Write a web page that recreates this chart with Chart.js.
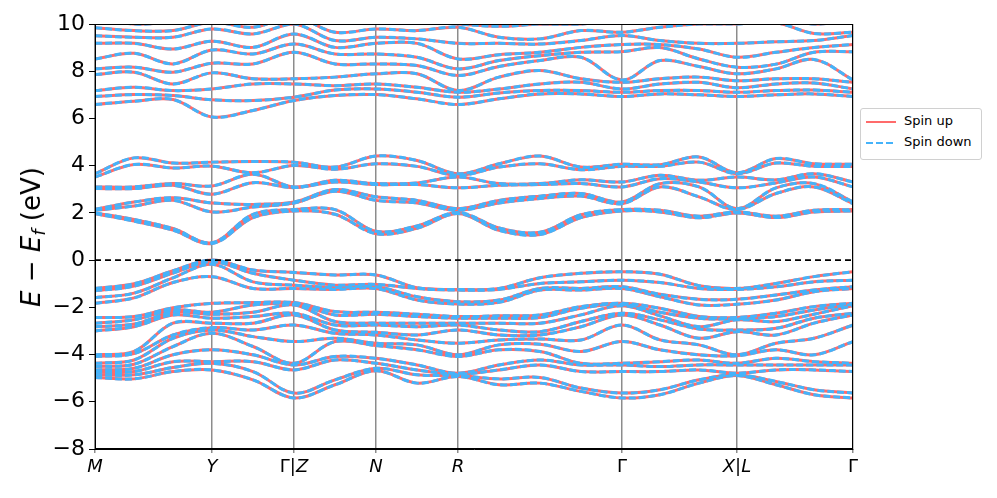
<!DOCTYPE html>
<html>
<head>
<meta charset="utf-8">
<script src="https://cdn.jsdelivr.net/npm/chart.js@4/dist/chart.umd.min.js"></script>
<style>
  body { margin: 0; background: #fff; }
  #wrap { position: relative; width: 997px; height: 498px; font-family: "DejaVu Sans", sans-serif; }
  #ylab {
    position: absolute; left: 31px; top: 237px;
    transform: translate(-50%, -50%) rotate(-90deg);
    font-size: 26px; white-space: nowrap; color: #000;
  }
  #ylab sub { font-size: 18px; vertical-align: -5px; line-height: 0; }
  #legend {
    position: absolute; left: 860px; top: 108px; width: 120px; height: 50px;
    border: 1px solid #d0d0d0; border-radius: 3px; background: #fff;
    font-size: 13px; color: #000;
  }
  #legend .row { position: absolute; left: 5px; height: 16px; line-height: 16px; white-space: nowrap; }
  #legend svg { vertical-align: middle; margin-right: 8px; }
</style>
</head>
<body>
<div id="wrap">
  <canvas id="bands" width="997" height="498"></canvas>
  <div id="ylab"><i>E</i> &minus; <i>E<sub>f</sub></i> (eV)</div>
  <div id="legend">
    <div class="row" style="top:4px"><svg width="30" height="4"><line x1="0" y1="2" x2="30" y2="2" stroke="#ff6b6b" stroke-width="2"/></svg>Spin up</div>
    <div class="row" style="top:25px"><svg width="30" height="4"><line x1="0" y1="2" x2="30" y2="2" stroke="#45b3fa" stroke-width="2" stroke-dasharray="7,3"/></svg>Spin down</div>
  </div>
</div>
<script>
// k-path sample positions (arbitrary distance units) and high-symmetry points
const kPath = [0, 0.39, 0.78, 1.17, 1.58, 1.99, 2.40, 2.81, 3.22, 3.63, 4.04, 4.45, 4.86, 5.27, 5.65, 6.04, 6.42, 6.81, 7.19, 7.58];
const kTicks = [0, 1.17, 1.99, 2.81, 3.63, 5.27, 6.42, 7.58];
const kLabels = ['M', 'Y', 'Γ|Z', 'N', 'R', 'Γ', 'X|L', 'Γ'];
const yTicks = [-8, -6, -4, -2, 0, 2, 4, 6, 8, 10];
const fermiLevel = 0;

// energies (eV) at each k sample, bands sorted high -> low
const upperAtK = [
  [10.3, 9.84, 9.50, 9.18, 8.52, 8.10, 7.86, 7.18, 6.93, 6.59],
  [10.0, 9.72, 9.44, 9.18, 8.76, 8.17, 7.96, 7.32, 7.01, 6.73],
  [10.1, 9.72, 9.44, 8.94, 8.31, 7.96, 7.46, 7.18, 6.97, 6.80],
  [10.3, 10.07, 9.79, 9.27, 8.90, 8.34, 7.93, 7.25, 6.79, 6.06],
  [10.2, 9.86, 9.58, 9.01, 8.73, 8.31, 7.68, 7.46, 6.76, 6.34],
  [10.5, 10.3, 10.0, 9.58, 9.15, 8.80, 7.68, 7.46, 6.90, 6.76],
  [10.1, 9.65, 9.30, 9.01, 8.73, 8.31, 7.75, 7.39, 7.20, 6.97],
  [10.2, 9.79, 9.44, 9.18, 8.73, 8.31, 7.89, 7.46, 7.25, 7.01],
  [10.1, 9.72, 9.37, 9.18, 8.59, 8.24, 7.89, 7.32, 7.11, 6.83],
  [10.0, 9.86, 9.18, 8.52, 8.10, 7.82, 7.18, 7.11, 6.90, 6.59],
  [9.90, 9.44, 9.18, 8.70, 8.45, 8.20, 7.75, 7.25, 7.08, 6.83],
  [10.0, 9.37, 9.15, 8.80, 8.66, 8.45, 8.03, 7.46, 7.18, 7.04],
  [10.0, 9.72, 9.30, 9.01, 8.80, 8.59, 7.68, 7.53, 7.18, 7.04],
  [10.2, 9.65, 9.51, 9.13, 8.83, 7.63, 7.53, 7.25, 7.11, 6.93],
  [10.1, 9.86, 9.30, 9.13, 9.00, 8.45, 7.68, 7.46, 7.18, 7.04],
  [10.3, 10.0, 9.18, 8.94, 8.52, 8.20, 7.75, 7.53, 7.18, 7.00],
  [10.1, 10.0, 9.18, 8.59, 8.17, 7.89, 7.60, 7.30, 7.11, 6.93],
  [10.3, 10.05, 9.25, 8.80, 8.30, 8.10, 7.68, 7.46, 7.18, 7.00],
  [10.0, 9.60, 9.30, 9.00, 8.80, 8.50, 7.68, 7.50, 7.20, 7.04],
  [10.2, 9.65, 9.51, 9.13, 8.83, 7.63, 7.53, 7.25, 7.11, 6.93]
];

const conductionAtK = [
  [3.66, 3.52, 3.10, 3.03, 2.15, 2.11, 2.00, 1.97],
  [4.33, 4.05, 3.10, 3.03, 2.46, 2.29, 1.72, 1.65],
  [4.11, 3.90, 3.24, 3.17, 2.64, 2.53, 1.34, 1.27],
  [4.15, 3.98, 3.14, 2.79, 2.42, 2.04, 0.74, 0.70],
  [4.18, 3.70, 3.64, 3.28, 2.36, 2.25, 1.94, 1.80],
  [4.15, 4.01, 3.10, 3.07, 2.46, 2.42, 2.14, 2.08],
  [3.94, 3.85, 3.38, 3.31, 2.99, 2.92, 2.14, 1.94],
  [4.41, 4.08, 3.24, 3.20, 2.68, 2.53, 1.22, 1.12],
  [4.22, 3.97, 3.27, 3.20, 2.53, 2.42, 1.45, 1.35],
  [3.66, 3.59, 3.52, 3.06, 2.18, 2.11, 2.02, 1.97],
  [4.08, 3.94, 3.24, 3.17, 2.53, 2.42, 1.36, 1.26],
  [4.41, 4.08, 3.24, 3.20, 2.71, 2.61, 1.18, 1.08],
  [3.94, 3.83, 3.40, 3.24, 2.82, 2.71, 1.92, 1.80],
  [4.06, 3.97, 3.31, 3.10, 2.46, 2.39, 2.14, 2.08],
  [4.04, 3.97, 3.59, 3.45, 3.24, 3.10, 2.11, 2.04],
  [4.37, 4.15, 3.38, 3.31, 3.10, 2.68, 1.86, 1.79],
  [3.70, 3.66, 3.52, 3.06, 2.18, 2.14, 2.04, 2.00],
  [4.30, 4.11, 3.40, 3.27, 3.06, 2.82, 1.86, 1.80],
  [4.08, 3.97, 3.66, 3.52, 3.24, 3.10, 2.11, 2.04],
  [4.06, 3.97, 3.31, 3.10, 2.46, 2.39, 2.14, 2.08]
];

const valenceAtK = [
  [-1.20, -1.30, -1.59, -1.83, -2.43, -2.67, -2.82, -3.00, -4.01, -4.08, -4.37, -4.51, -4.65, -4.75, -4.86, -4.97],
  [-1.00, -1.10, -1.40, -1.60, -2.39, -2.53, -2.71, -2.82, -3.87, -3.96, -4.23, -4.41, -4.58, -4.72, -4.86, -5.03],
  [-0.45, -0.55, -0.75, -0.95, -2.02, -2.11, -2.21, -2.32, -2.67, -3.17, -3.31, -3.66, -4.01, -4.30, -4.55, -4.72],
  [0.00, -0.07, -0.18, -0.70, -1.83, -2.21, -2.29, -2.46, -2.67, -2.86, -2.96, -3.10, -3.80, -4.30, -4.37, -4.65],
  [-0.42, -0.56, -0.92, -1.20, -1.80, -1.90, -2.21, -2.39, -2.67, -2.96, -3.24, -3.66, -4.01, -4.30, -4.72, -5.07],
  [-0.52, -0.85, -1.06, -1.20, -1.80, -1.85, -1.90, -2.25, -2.32, -2.75, -3.45, -4.37, -4.44, -4.65, -5.63, -5.84],
  [-0.63, -1.06, -1.16, -1.24, -2.18, -2.32, -2.60, -2.75, -2.96, -3.10, -3.31, -3.45, -4.08, -4.23, -5.07, -5.28],
  [-0.63, -1.03, -1.13, -1.20, -2.21, -2.29, -2.67, -2.75, -3.06, -3.17, -3.52, -3.62, -4.16, -4.37, -4.58, -4.69],
  [-1.17, -1.20, -1.55, -1.69, -2.29, -2.39, -2.67, -2.82, -3.17, -3.38, -3.59, -3.80, -4.44, -4.65, -4.86, -5.21],
  [-1.24, -1.27, -1.76, -1.86, -2.39, -2.46, -2.67, -2.75, -2.96, -3.52, -4.01, -4.08, -4.79, -4.83, -4.89, -4.93],
  [-1.20, -1.24, -1.69, -1.79, -2.36, -2.46, -2.67, -2.96, -3.17, -3.38, -3.59, -3.80, -4.44, -4.65, -5.03, -5.28],
  [-0.75, -0.99, -1.20, -1.27, -2.32, -2.43, -2.67, -3.03, -3.17, -3.34, -3.56, -3.87, -4.23, -4.44, -4.97, -5.21],
  [-0.56, -0.92, -1.20, -1.27, -1.97, -2.04, -2.32, -2.60, -2.82, -3.38, -3.87, -4.37, -4.44, -4.72, -5.42, -5.56],
  [-0.49, -0.85, -1.13, -1.20, -1.83, -1.87, -1.93, -2.25, -2.32, -2.75, -3.45, -4.37, -4.44, -4.72, -5.63, -5.84],
  [-0.60, -0.95, -1.45, -1.55, -2.04, -2.21, -2.36, -2.53, -2.75, -3.38, -3.80, -4.30, -4.51, -4.72, -5.49, -5.70],
  [-1.08, -1.20, -1.66, -1.90, -2.39, -2.46, -2.82, -2.92, -3.31, -3.59, -4.01, -4.23, -4.44, -4.65, -5.07, -5.21],
  [-1.20, -1.24, -1.66, -1.87, -2.43, -2.49, -2.53, -2.96, -3.03, -4.01, -4.05, -4.37, -4.44, -4.79, -4.86, -4.89],
  [-0.99, -1.13, -1.48, -1.69, -2.25, -2.39, -2.60, -2.89, -3.17, -3.52, -3.80, -4.16, -4.44, -4.65, -5.14, -5.28],
  [-0.70, -0.92, -1.27, -1.34, -1.97, -2.11, -2.29, -2.46, -2.67, -3.31, -4.01, -4.30, -4.44, -4.65, -5.49, -5.70],
  [-0.49, -0.85, -1.13, -1.20, -1.83, -1.87, -1.93, -2.25, -2.32, -2.75, -3.45, -4.37, -4.44, -4.72, -5.63, -5.84]
];

const upColor = '#ff6b6b';
const downColor = '#45b3fa';

// turn the per-k columns into one series per band
function toBands(cols) {
  const out = [];
  for (let b = 0; b < cols[0].length; b++) {
    out.push(cols.map((c, i) => ({ x: kPath[i], y: c[b] })));
  }
  return out;
}
const allBands = [...toBands(upperAtK), ...toBands(conductionAtK), ...toBands(valenceAtK)];

const datasets = [{
  label: 'Ef',
  data: [{ x: kPath[0], y: fermiLevel }, { x: kPath[kPath.length - 1], y: fermiLevel }],
  borderColor: '#000', borderWidth: 1.6, borderDash: [6, 4], tension: 0, order: -1
}];
allBands.forEach(band => {
  datasets.push({ label: 'Spin down', data: band, borderColor: downColor, borderWidth: 3, borderDash: [7, 3], order: 0 });
  datasets.push({ label: 'Spin up', data: band, borderColor: upColor, borderWidth: 3, order: 1 });
});

// frame round the plot area, plus k-point labels (Γ upright, letters italic)
const frame = {
  id: 'frame',
  afterDraw(chart) {
    const a = chart.chartArea, c = chart.ctx, xs = chart.scales.x;
    c.save();
    c.strokeStyle = '#000';
    c.lineWidth = 1;
    c.strokeRect(a.left + 0.5, a.top + 0.5, a.right - a.left - 1, a.bottom - a.top - 1);
    c.fillStyle = '#000';
    c.textBaseline = 'alphabetic';
    kLabels.forEach((lab, i) => {
      const parts = lab.split('').map(ch => ({
        ch, font: (/[A-Z]/.test(ch) ? 'italic ' : '') + '18px "DejaVu Sans"'
      }));
      let w = 0;
      parts.forEach(p => { c.font = p.font; p.w = c.measureText(p.ch).width; w += p.w; });
      let x = xs.getPixelForValue(kTicks[i]) - w / 2;
      parts.forEach(p => { c.font = p.font; c.fillText(p.ch, x, a.bottom + 23); x += p.w; });
    });
    c.restore();
  }
};

new Chart(document.getElementById('bands').getContext('2d'), {
  type: 'line',
  data: { datasets: datasets },
  options: {
    responsive: false,
    animation: false,
    layout: { padding: { top: 24, right: 144, left: 0, bottom: 0 } },
    elements: {
      point: { radius: 0 },
      line: { tension: 0.35, fill: false }
    },
    plugins: {
      legend: { display: false },
      tooltip: { enabled: false }
    },
    scales: {
      x: {
        type: 'linear',
        min: kPath[0],
        max: kPath[kPath.length - 1],
        afterBuildTicks: scale => { scale.ticks = kTicks.map(v => ({ value: v })); },
        afterFit: scale => { scale.height = 49; },
        ticks: {
          autoSkip: false,
          maxRotation: 0,
          color: 'rgba(0,0,0,0)',
          callback: () => ''
        },
        grid: { color: 'rgba(0,0,0,0.45)', lineWidth: 1.5, tickLength: 4 },
        border: { color: '#000' }
      },
      y: {
        min: -8,
        max: 10,
        afterBuildTicks: scale => { scale.ticks = yTicks.map(v => ({ value: v })); },
        afterFit: scale => { scale.width = 95; },
        ticks: {
          color: '#000',
          padding: 4,
          font: { family: 'DejaVu Sans', size: 22 },
          callback: v => (v < 0 ? '\u2212' + Math.abs(v) : String(v))
        },
        grid: { drawOnChartArea: false, color: '#000', tickLength: 6 },
        border: { color: '#000' }
      }
    }
  },
  plugins: [frame]
});
</script>
</body>
</html>
